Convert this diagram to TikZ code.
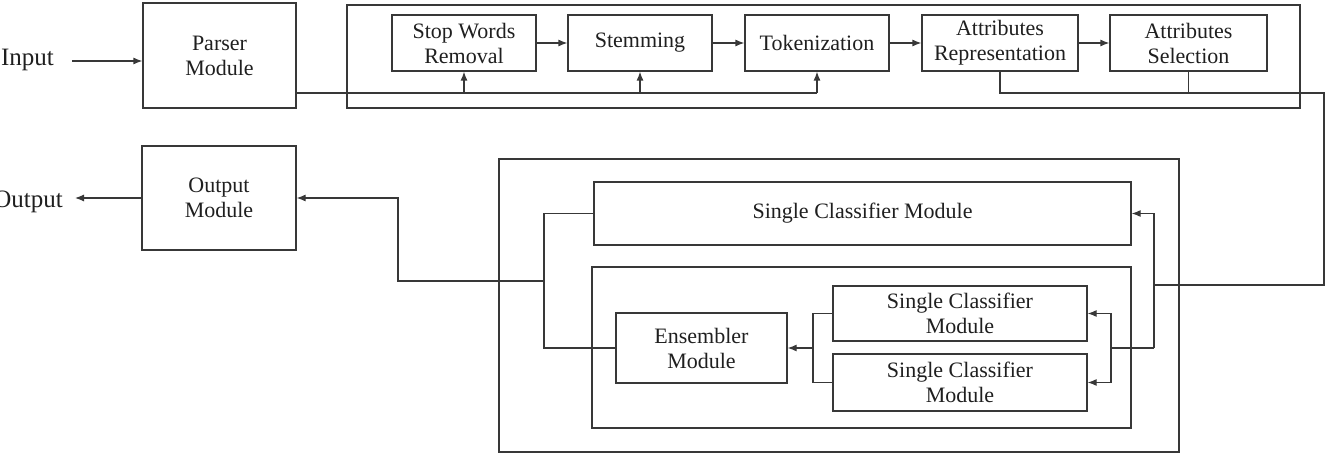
\documentclass[tikz,border=0pt]{standalone}
\usepackage{fontspec}
\setmainfont{Liberation Serif}
\usetikzlibrary{arrows.meta}
\colorlet{lc}{black!78}
\colorlet{tc}{black!88}
\begin{document}
\begin{tikzpicture}[x=1pt,y=-1pt,
  box/.style={draw=lc, line width=1.2pt, inner sep=0pt, align=center,
    font=\fontsize{22}{25}\selectfont, text=tc},
  lbl/.style={inner sep=0pt, font=\fontsize{25}{28}\selectfont, text=tc},
  ln/.style={draw=lc, line width=1.2pt},
  arr/.style={ln, -{Latex[length=9pt,width=7pt]}},
]
\useasboundingbox (0,0) rectangle (1329,454);

% top row
\node[box, minimum width=153pt, minimum height=105pt] (parser) at (219.5,55.5) {Parser\\Module};
\node[box, minimum width=953pt, minimum height=103pt] (pre) at (823.5,56.5) {};
\node[box, minimum width=144pt, minimum height=56pt] (stop) at (464,43) {Stop Words\\Removal};
\node[box, minimum width=144pt, minimum height=56pt] (stem) at (640,43) {Stemming};
\node[box, minimum width=144pt, minimum height=56pt] (tok) at (817,43) {Tokenization};
\node[box, minimum width=156pt, minimum height=56pt] (rep) at (1000,43) {Attributes\\Representation};
\node[box, minimum width=157pt, minimum height=56pt] (sel) at (1188.5,43) {Attributes\\Selection};

% output
\node[box, minimum width=154pt, minimum height=104pt] (output) at (219,198) {Output\\Module};

% classifier block
\node[box, minimum width=680pt, minimum height=293pt] (cls) at (839,305.5) {};
\node[box, minimum width=537pt, minimum height=63pt] (sctop) at (862.5,213.5) {Single Classifier Module};
\node[box, minimum width=539pt, minimum height=161pt] (inner) at (861.5,347.5) {};
\node[box, minimum width=254pt, minimum height=55pt] (sc1) at (960,313.5) {Single Classifier\\Module};
\node[box, minimum width=254pt, minimum height=57pt] (sc2) at (960,382.5) {Single Classifier\\Module};
\node[box, minimum width=171pt, minimum height=70pt] (ens) at (701.5,348) {Ensembler\\Module};

% labels
\node[lbl, anchor=east] (inlbl) at (54,60) {Input};
\node[lbl, anchor=east] (outlbl) at (63,201.5) {Output};

% input arrow
\coordinate (inrow) at (0,61);
\draw[arr, shorten <=18pt] (inlbl.east |- inrow) -- (parser.west |- inrow);

% chain arrows
\draw[arr] (stop) -- (stem);
\draw[arr] (stem) -- (tok);
\draw[arr] (tok) -- (rep);
\draw[arr] (rep) -- (sel);

% bus from parser
\coordinate (bus) at (0,93);
\draw[ln] (parser.east |- bus) -- (tok.south |- bus);
\draw[arr] (stop.south |- bus) -- (stop.south);
\draw[arr] (stem.south |- bus) -- (stem.south);
\draw[arr] (tok.south |- bus) -- (tok.south);

% right loop
\coordinate (rtop) at (1324,93);
\coordinate (rbot) at (1324,285);
\coordinate (fan) at (1154,285);
\coordinate (fan1) at (1154,348);
\coordinate (fan2) at (1111,348);
\draw[ln] (rep.south) -- (rep.south |- bus) -- (rtop) -- (rbot) -- (fan);
\draw[ln] (sel.south) -- (sel.south |- bus);
\draw[arr] (fan1) |- (sctop.east);
\draw[ln] (fan1) -- (fan2);
\draw[arr] (fan2) |- (sc1.east);
\draw[arr] (fan2) |- (sc2.east);

% left side
\coordinate (col) at (813,348);
\draw[ln] (sc1.west) -| (col);
\draw[ln] (sc2.west) -| (col);
\draw[arr] (col) -- (ens.east);
\coordinate (lj) at (544,281);
\coordinate (lk) at (398,281);
\draw[ln] (sctop.west) -| (lj);
\draw[ln] (ens.west) -| (lj);
\draw[arr] (lj) -- (lk) |- (output.east);

% output arrow
\draw[arr, shorten >=12pt] (output.west) -- (output.west -| outlbl.east);
\end{tikzpicture}
\end{document}
